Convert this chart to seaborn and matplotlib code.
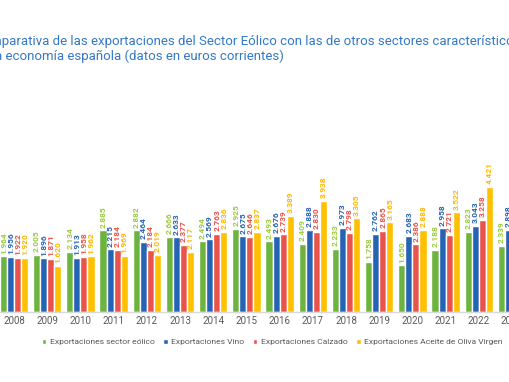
import matplotlib
matplotlib.use("Agg")
import matplotlib.pyplot as plt
import seaborn as sns
import pandas as pd

years = ["2008", "2009", "2010", "2011", "2012", "2013", "2014", "2015",
         "2016", "2017", "2018", "2019", "2020", "2021", "2022", "2023"]
eolico = [1964, 2005, 2134, 2885, 2882, 2666, 2494, 2925, 2493, 2409, 2233, 1758, 1650, 2188, 2823, 2339]
vino = [1956, 1896, 1913, 2215, 2464, 2633, 2569, 2675, 2676, 2888, 2973, 2762, 2683, 2958, 3043, 2898]
calzado = [1922, 1871, 1958, 2184, 2184, 2377, 2763, 2646, 2739, 2830, 2798, 2865, 2386, 2721, 3258, 3100]
aceite = [1920, 1620, 1962, 1969, 2019, 2117, 2836, 2837, 3389, 3938, 3305, 3165, 2888, 3522, 4421, 3900]
series = ["Exportaciones sector eólico", "Exportaciones Vino",
          "Exportaciones Calzado", "Exportaciones Aceite de Oliva Virgen"]
title1 = "Comparativa de las exportaciones del Sector Eólico con las de otros sectores característicos"
title2 = "de la economía española (datos en euros corrientes)"

bar_colors = ["#6DB33F", "#2563B5", "#E8544C", "#FFC000"]
label_colors = ["#9BCB3C", "#2563B5", "#E8544C", "#FFB800"]

rows = []
for s, vals in zip(series, [eolico, vino, calzado, aceite]):
    for y, v in zip(years, vals):
        rows.append({"year": y, "serie": s, "valor": v})
df = pd.DataFrame(rows)

sns.set_style("white")
plt.rcParams["font.family"] = ["Roboto", "DejaVu Sans"]

W, H = 510, 382
fig = plt.figure(figsize=(W / 100, H / 100), dpi=100)
step = 33.2
n = len(years)
left_px = 14 - 0.5 * step
bottom_px = 312
unit = 28.3 / 1000
top_val = 5000
ax = fig.add_axes([left_px / W, (H - bottom_px) / H, n * step / W, top_val * unit / H])

sns.barplot(data=df, x="year", y="valor", hue="serie", palette=bar_colors,
            width=0.85, gap=0, ax=ax, saturation=1, legend=True)
ax.set_xlim(-0.5, n - 0.5)
ax.set_ylim(0, top_val)
ax.set_xlabel("")
ax.set_ylabel("")
ax.set_yticks([])
for sp in ["left", "right", "top"]:
    ax.spines[sp].set_visible(False)
ax.spines["bottom"].set_color("#D9D9D9")
ax.spines["bottom"].set_linewidth(1)
ax.tick_params(axis="x", length=0, pad=3, labelsize=7, labelcolor="#595959")

for cont, vals, lc in zip(ax.containers, [eolico, vino, calzado, aceite], label_colors):
    labels = [f"{v:,}".replace(",", ".") for v in vals]
    ax.bar_label(cont, labels=labels, rotation=90, padding=2, fontsize=6,
                 color=lc, fontweight="bold")

handles, labs = ax.get_legend_handles_labels()
ax.get_legend().remove()
fig.legend(handles, labs, loc="center", bbox_to_anchor=(272 / W, 1 - 342 / H),
           ncol=4, frameon=False, fontsize=6.1, labelcolor="#595959",
           handlelength=0.55, handleheight=0.55, handletextpad=0.4, columnspacing=1.0)

fig.text(-26 / W, 1 - 45 / H, title1, fontsize=9.5, color="#3478C8", ha="left", va="baseline")
fig.text(-26 / W, 1 - 60 / H, title2, fontsize=9.5, color="#3478C8", ha="left", va="baseline")

fig.savefig("out.png", dpi=100, facecolor="white")
